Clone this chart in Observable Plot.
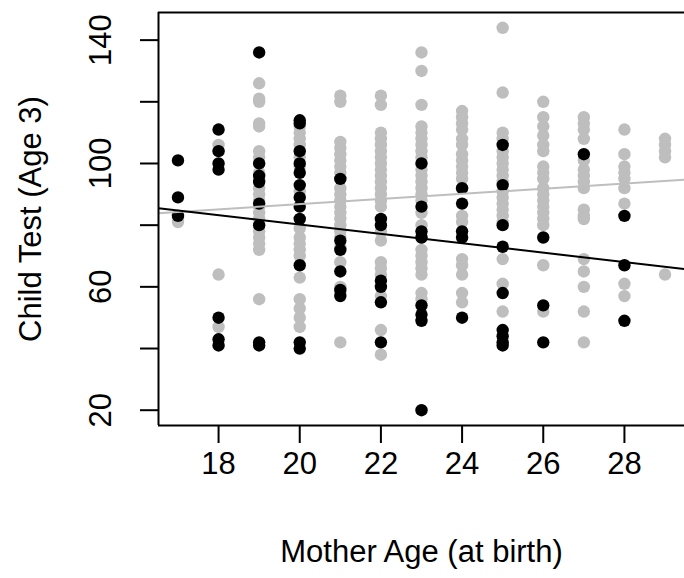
<!DOCTYPE html>
<html>
<head>
<meta charset="utf-8">
<script src="https://cdn.jsdelivr.net/npm/d3@7"></script>
<script src="https://cdn.jsdelivr.net/npm/@observablehq/plot@0.6"></script>
<style>
  body { margin: 0; background: white; }
</style>
</head>
<body>
<div id="chart"></div>
<script>
// Mother ages (x categories, integer years)
const ages = [17, 18, 19, 20, 21, 22, 23, 24, 25, 26, 27, 28, 29];

// Child test scores, mother completed high school (gray), per age
const grayScores = [
  [82, 81],
  [106, 64, 47],
  [126, 121, 120, 113, 112, 104, 102, 100, 97, 95, 92, 90, 88, 86, 84, 82, 80, 78, 76, 74, 72, 56],
  [112, 110, 108, 106, 102, 99, 91, 79, 76, 74, 72, 70, 63, 56, 53, 50, 47],
  [122, 120, 107, 105, 103, 101, 99, 97, 95, 92, 90, 88, 86, 84, 82, 80, 78, 76, 73, 68, 60, 58, 42],
  [122, 119, 110, 108, 106, 104, 102, 100, 98, 96, 94, 92, 90, 88, 86, 78, 75, 68, 66, 64, 57, 46, 38],
  [136, 130, 119, 112, 110, 108, 106, 104, 102, 98, 96, 94, 92, 90, 88, 84, 80, 76, 72, 70, 68, 66, 64, 58, 56],
  [117, 115, 113, 111, 108, 106, 103, 101, 99, 97, 95, 92, 83, 81, 69, 67, 64, 58, 55],
  [144, 123, 110, 108, 104, 102, 100, 98, 96, 94, 91, 89, 87, 85, 83, 81, 69, 61, 52],
  [120, 115, 112, 109, 106, 104, 99, 97, 95, 92, 90, 88, 86, 84, 82, 80, 67, 52],
  [115, 113, 111, 108, 101, 98, 96, 94, 92, 85, 83, 82, 69, 65, 60, 52, 42],
  [111, 103, 99, 97, 95, 92, 87, 61, 57],
  [108, 106, 104, 102, 64]
];

// Child test scores, mother did not complete high school (black), per age
const blackScores = [
  [101, 89, 83],
  [111, 104, 100, 98, 50, 43, 41],
  [136, 100, 96, 94, 87, 80, 42, 41],
  [114, 113, 104, 100, 97, 93, 89, 86, 82, 67, 42, 40],
  [95, 75, 72, 65, 59, 57],
  [82, 80, 62, 60, 55, 42],
  [100, 86, 78, 76, 54, 51, 49, 20],
  [92, 87, 78, 76, 50],
  [106, 93, 80, 73, 58, 46, 44, 42, 41],
  [76, 54, 42],
  [103],
  [83, 67, 49],
  []
];

// Fitted regression lines (abline) per group
const lineColors = ["#bebebe", "black"];
const lineIntercepts = [70.0, 110.6];
const lineSlopes = [0.84, -1.52];

// Axes
const xDomain = [16.52, 29.48];
const yDomain = [15.04, 148.96];
const xTicks = [18, 20, 22, 24, 26, 28];
const yTicks = [20, 40, 60, 80, 100, 120, 140];
const yTickLabels = [20, 60, 100, 140];
const xTitle = "Mother Age (at birth)";
const yTitle = "Child Test (Age 3)";

const grayPts = ages.flatMap((a, i) => grayScores[i].map(s => ({age: a, score: s})));
const blackPts = ages.flatMap((a, i) => blackScores[i].map(s => ({age: a, score: s})));
const linePts = lineColors.flatMap((c, i) =>
  xDomain.map(x => ({color: c, x, y: lineIntercepts[i] + lineSlopes[i] * x})));

const font = "'Liberation Sans', Arial, Helvetica, sans-serif";
const fs = 31;

const chart = Plot.plot({
  width: 684,
  height: 578,
  marginLeft: 158,
  marginRight: 0,
  marginTop: 12,
  marginBottom: 153,
  style: {fontFamily: font, fontSize: fs + "px", background: "white", color: "black"},
  x: {domain: xDomain},
  y: {domain: yDomain},
  marks: [
    Plot.dot(grayPts, {x: "age", y: "score", r: 6.2, fill: "#bebebe", stroke: "none"}),
    Plot.dot(blackPts, {x: "age", y: "score", r: 6.2, fill: "black", stroke: "none"}),
    Plot.line(linePts, {x: "x", y: "y", z: "color", stroke: "color", strokeWidth: 2, clip: true}),
    Plot.ruleX([xDomain[0]], {stroke: "black", strokeWidth: 2}),
    Plot.ruleY([yDomain[0], yDomain[1]], {stroke: "black", strokeWidth: 2}),
    Plot.axisX({ticks: xTicks, tickSize: 18, tickPadding: 8, fontSize: fs, label: null, strokeWidth: 2, tickFormat: d => String(d)}),
    Plot.axisY({ticks: yTicks, tickSize: 18, label: null, strokeWidth: 2, tickFormat: () => ""}),
    Plot.text(yTickLabels, {y: d => d, text: d => String(d), frameAnchor: "left", textAnchor: "middle", dx: -57, rotate: -90, fontSize: fs, fill: "black"}),
    Plot.text([xTitle], {frameAnchor: "bottom", textAnchor: "middle", dy: 136, fontSize: fs, fill: "black"}),
    Plot.text([yTitle], {frameAnchor: "left", textAnchor: "middle", dx: -127, rotate: -90, fontSize: fs, fill: "black"})
  ]
});
document.getElementById("chart").appendChild(chart);
</script>
</body>
</html>
